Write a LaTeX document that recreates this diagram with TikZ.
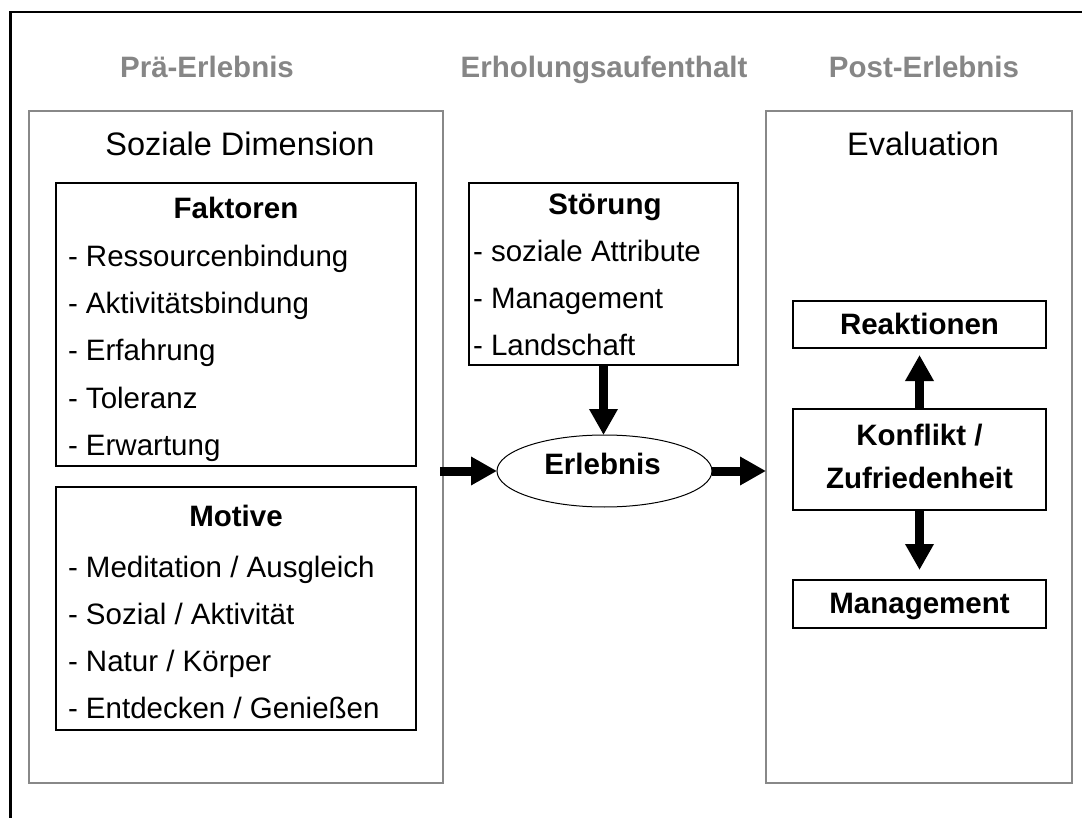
\documentclass[tikz,border=0pt]{standalone}
\usepackage{fontspec}
\setmainfont{Liberation Sans}
\usetikzlibrary{arrows.meta,shapes.geometric}
\definecolor{panelgray}{RGB}{136,136,136}
\definecolor{phasegray}{RGB}{134,134,134}
\begin{document}
\begin{tikzpicture}[x=1pt,y=-1pt,
  every node/.style={inner sep=0pt, outer sep=0pt},
  body/.style={font=\fontsize{29.5}{35}\selectfont},
  bodybf/.style={font=\fontsize{29.5}{35}\selectfont\bfseries},
  phase/.style={font=\fontsize{29.5}{35}\selectfont\bfseries, text=phasegray},
  paneltitle/.style={font=\fontsize{32.5}{38}\selectfont},
  panel/.style={draw=panelgray, line width=2.2pt, anchor=north west},
  listbox/.style={draw=black, line width=1.3pt, anchor=north west},
  flow/.style={line width=9pt, -{Triangle[length=26pt,width=27pt]}},
]
\useasboundingbox (0,0) rectangle (1082,818);

% open outer frame (left and top edges)
\coordinate (fbl) at (10.5,818);
\coordinate (ftl) at (10.5,12);
\coordinate (ftr) at (1082,12);
\draw[line width=2.5pt] (fbl) -- (ftl) -- (ftr);

% phase headings
\node[phase, anchor=base] (ph1) at (207,78) {Prä-Erlebnis};
\node[phase, anchor=base] (ph2) at (604,78) {Erholungsaufenthalt};
\node[phase, anchor=base] (ph3) at (924,78) {Post-Erlebnis};

% the two grey panels
\node[panel, minimum width=414, minimum height=672] (soz) at (29,111) {};
\node[panel, minimum width=306, minimum height=672] (eval) at (766,111) {};
\node[paneltitle, anchor=base] (sozT) at (240,156) {Soziale Dimension};
\node[paneltitle, anchor=base] (evalT) at (923,156) {Evaluation};

% Faktoren
\node[listbox, minimum width=360, minimum height=283] (fak) at (56,183) {};
\node[bodybf, anchor=base] (fakT) at (236,219) {Faktoren};
\foreach \t [count=\i] in {Ressourcenbindung, Aktivitätsbindung, Erfahrung, Toleranz, Erwartung}
  \node[body, anchor=base west] (fak\i) at (68,{267+47*(\i-1)}) {- \t};

% Motive
\node[listbox, minimum width=360, minimum height=243] (mot) at (56,487) {};
\node[bodybf, anchor=base] (motT) at (236,526) {Motive};
\foreach \t [count=\i] in {Meditation / Ausgleich, Sozial / Aktivität, Natur / Körper, Entdecken / Genießen}
  \node[body, anchor=base west] (mot\i) at (68,{577+47*(\i-1)}) {- \t};

% Störung
\node[listbox, minimum width=269, minimum height=182] (stoer) at (469,183) {};
\node[bodybf, anchor=base] (stoT) at (605,215) {Störung};
\foreach \t [count=\i] in {soziale Attribute, Management, Landschaft}
  \node[body, anchor=base west] (sto\i) at (473,{262+46.7*(\i-1)}) {- \t};

% Erlebnis
\node[draw, ellipse, line width=1pt, minimum width=215, minimum height=72] (erl) at (604.5,471) {};
\node[bodybf, anchor=base] (erlT) at (602.5,474) {Erlebnis};

% evaluation boxes
\node[listbox, minimum width=253, minimum height=47] (reak) at (793,301) {};
\node[bodybf, anchor=base] (reakT) at (919.5,335) {Reaktionen};
\node[listbox, minimum width=253, minimum height=101] (konf) at (793,409) {};
\node[bodybf, anchor=base] (konfT1) at (919.5,445) {Konflikt /};
\node[bodybf, anchor=base] (konfT2) at (919.5,488) {Zufriedenheit};
\node[listbox, minimum width=253, minimum height=48] (mgmt) at (793,580) {};
\node[bodybf, anchor=base] (mgmtT) at (919.5,613) {Management};

% flow arrows
\draw[flow, shorten <=-3pt] (soz.east |- erl.west) -- (erl.west);
\draw[flow] (erl.east) -- (eval.west |- erl.east);
\draw[flow] (stoer.south) -- (stoer.south |- erl.north);
\draw[flow, shorten >=7pt] (konf.north) -- (reak.south);
\draw[flow, shorten >=10pt] (konf.south) -- (mgmt.north);
\end{tikzpicture}
\end{document}
